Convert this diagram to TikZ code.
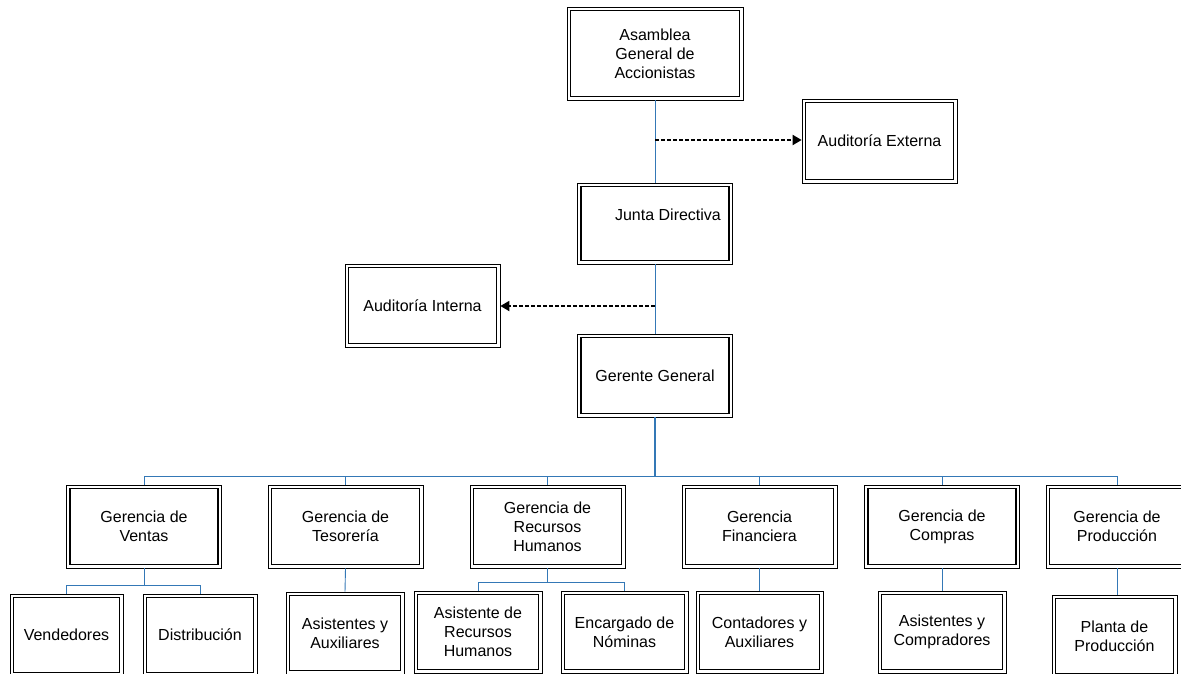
\documentclass[tikz,border=0pt]{standalone}
\usepackage{fontspec}
\setmainfont{Liberation Sans}
\usetikzlibrary{arrows.meta}
\definecolor{linkblue}{RGB}{52,120,182}
\tikzset{
  x=1pt, y=-1pt,
  dbox/.style={draw, line width=0.7pt, inner sep=0pt, align=center,
    font=\fontsize{16}{19}\selectfont,
    path picture={\draw[line width=1.5pt]
      ([shift={(3.6pt,3.6pt)}]path picture bounding box.south west) rectangle
      ([shift={(-3.6pt,-3.6pt)}]path picture bounding box.north east);}},
  bigbox/.style={dbox, minimum width=155pt, minimum height=83pt},
  subbox/.style={dbox, minimum height=82pt},
  txt/.style={inner sep=0pt, font=\fontsize{16}{19}\selectfont},
  conn/.style={draw=linkblue, line width=0.9pt},
  trunk/.style={draw=linkblue, line width=1.8pt},
  dasharrow/.style={draw=black, line width=1.8pt, dash pattern=on 4pt off 2pt,
    -{Triangle[length=9pt,width=10pt]}}
}
\begin{document}
\begin{tikzpicture}
\useasboundingbox (0,0) rectangle (1181,673);

% top levels
\node[dbox, minimum width=176pt, minimum height=93pt] (asam) at (655,53.5) {Asamblea\\General de\\Accionistas};
\node[bigbox, minimum height=84pt] (ext) at (879.5,141) {Auditoría Externa};
\node[bigbox, minimum height=81pt] (junta) at (655,223.5) {};
\node[txt] (juntat) at (668,215) {Junta Directiva};
\node[bigbox] (int) at (422.5,305.5) {Auditoría Interna};
\node[bigbox] (gg) at (655,375.5) {Gerente General};

% managers
\node[bigbox] (ven) at (144,526.5) {Gerencia de\\Ventas};
\node[bigbox] (tes) at (345.5,526.5) {Gerencia de\\Tesorería};
\node[bigbox] (rh) at (547.5,526.5) {Gerencia de\\Recursos\\Humanos};
\node[bigbox] (fin) at (759.5,526.5) {Gerencia\\Financiera};
\node[bigbox] (com) at (942,526.5) {Gerencia de\\Compras};
\node[bigbox, minimum width=142pt] (pro) at (1117,526.5) {Gerencia de\\Producción};

% staff
\node[subbox, minimum width=113pt] (vend) at (66.5,635) {Vendedores};
\node[subbox, minimum width=114pt] (dist) at (200,635) {Distribución};
\node[subbox, minimum width=118pt] (aux) at (345,633) {Asistentes y\\Auxiliares};
\node[subbox, minimum width=128pt] (arh) at (478,632) {Asistente de\\Recursos\\Humanos};
\node[subbox, minimum width=127pt] (nom) at (624.5,632) {Encargado de\\Nóminas};
\node[subbox, minimum width=127pt] (cont) at (759.5,632) {Contadores y\\Auxiliares};
\node[subbox, minimum width=128pt] (compr) at (942,632) {Asistentes y\\Compradores};
\node[subbox, minimum width=125pt] (pla) at (1114.5,636) {Planta de\\Producción};

% reporting lines
\draw[conn] (asam.south) -- (junta.north);
\draw[conn] (junta.south) -- (gg.north);
\coordinate (bus) at (655,476);
\draw[trunk] (gg.south) -- (bus);
\draw[conn] (ven.north) -- (ven.north |- bus) -- (pro.north |- bus) -- (pro.north);
\foreach \m in {tes,rh,fin,com} \draw[conn] (\m.north) -- (\m.north |- bus);

% audit links
\coordinate (ae) at (655,140);
\draw[dasharrow] (ae) -- (ae -| ext.west);
\coordinate (ai) at (655,306);
\draw[dasharrow] (ai) -- (ai -| int.east);

% staff links
\coordinate (vbus) at (144,585);
\draw[conn] (ven.south) -- (vbus);
\draw[conn] (vend.north) |- (vbus) -| (dist.north);
\coordinate (rbus) at (547.5,582);
\draw[conn] (rh.south) -- (rbus);
\draw[conn] (arh.north) |- (rbus) -| (nom.north);
\draw[conn] (tes.south) -- (aux.north);
\draw[conn] (fin.south) -- (cont.north);
\draw[conn] (com.south) -- (compr.north);
\draw[conn] (pro.south) -- (pro.south |- pla.north);
\end{tikzpicture}
\end{document}
